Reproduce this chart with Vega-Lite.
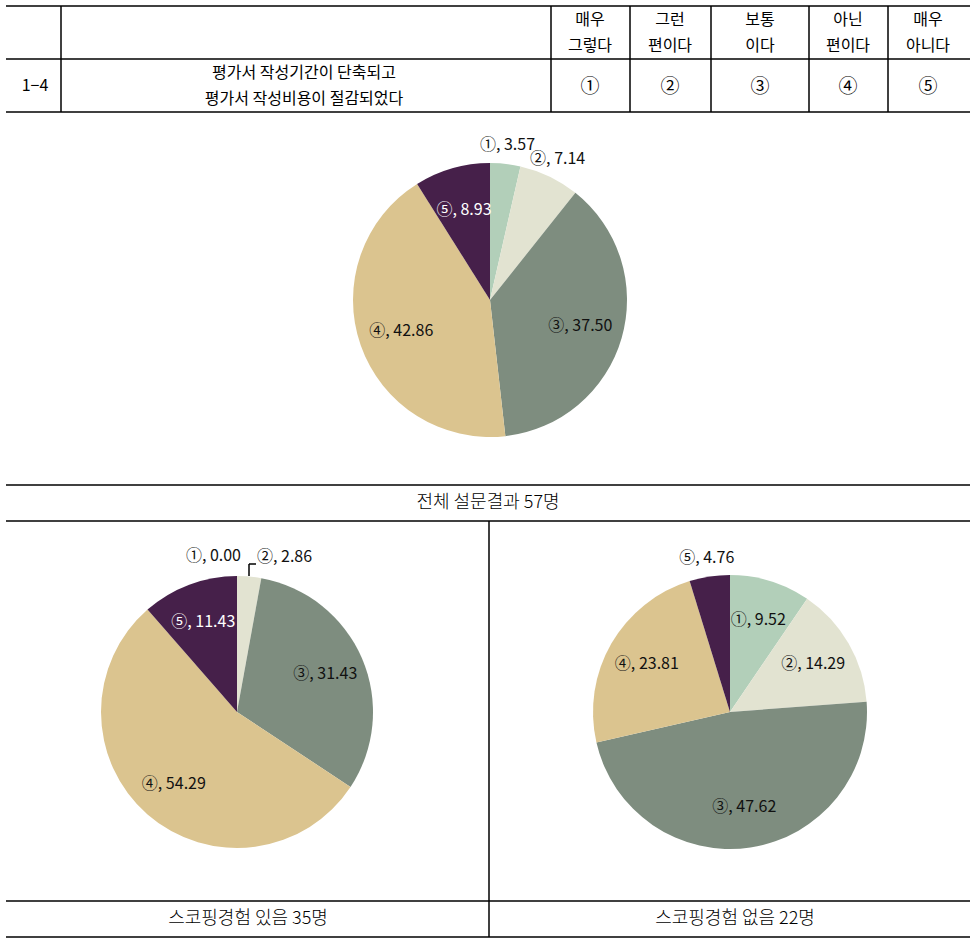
{
  "$schema": "https://vega.github.io/schema/vega-lite/v6.json",
  "width": 976,
  "height": 944,
  "autosize": {"type": "fit", "contains": "padding"},
  "padding": 0,
  "background": "white",
  "config": {"view": {"stroke": null}},
  "datasets": {
    "pies": [
      {"pie": "전체", "choice": "①", "value": 3.57, "label": "①, 3.57"},
      {"pie": "전체", "choice": "②", "value": 7.14, "label": "②, 7.14"},
      {"pie": "전체", "choice": "③", "value": 37.50, "label": "③, 37.50"},
      {"pie": "전체", "choice": "④", "value": 42.86, "label": "④, 42.86"},
      {"pie": "전체", "choice": "⑤", "value": 8.93, "label": "⑤, 8.93"},
      {"pie": "있음", "choice": "①", "value": 0.00, "label": "①, 0.00"},
      {"pie": "있음", "choice": "②", "value": 2.86, "label": "②, 2.86"},
      {"pie": "있음", "choice": "③", "value": 31.43, "label": "③, 31.43"},
      {"pie": "있음", "choice": "④", "value": 54.29, "label": "④, 54.29"},
      {"pie": "있음", "choice": "⑤", "value": 11.43, "label": "⑤, 11.43"},
      {"pie": "없음", "choice": "①", "value": 9.52, "label": "①, 9.52"},
      {"pie": "없음", "choice": "②", "value": 14.29, "label": "②, 14.29"},
      {"pie": "없음", "choice": "③", "value": 47.62, "label": "③, 47.62"},
      {"pie": "없음", "choice": "④", "value": 23.81, "label": "④, 23.81"},
      {"pie": "없음", "choice": "⑤", "value": 4.76, "label": "⑤, 4.76"}
    ],
    "lines": [
      {"x1": 6, "y1": 6, "x2": 970, "y2": 6},
      {"x1": 6, "y1": 59, "x2": 970, "y2": 59},
      {"x1": 6, "y1": 112, "x2": 970, "y2": 112},
      {"x1": 61, "y1": 6, "x2": 61, "y2": 112},
      {"x1": 551, "y1": 6, "x2": 551, "y2": 112},
      {"x1": 630, "y1": 6, "x2": 630, "y2": 112},
      {"x1": 711, "y1": 6, "x2": 711, "y2": 112},
      {"x1": 809, "y1": 6, "x2": 809, "y2": 112},
      {"x1": 888, "y1": 6, "x2": 888, "y2": 112},
      {"x1": 6, "y1": 485, "x2": 970, "y2": 485},
      {"x1": 6, "y1": 521, "x2": 970, "y2": 521},
      {"x1": 489, "y1": 521, "x2": 489, "y2": 937},
      {"x1": 6, "y1": 901, "x2": 970, "y2": 901},
      {"x1": 6, "y1": 937, "x2": 970, "y2": 937}
    ],
    "leader": [
      {"x1": 249, "y1": 564, "x2": 249, "y2": 576},
      {"x1": 249, "y1": 564, "x2": 256, "y2": 564}
    ],
    "texts": [
      {"kind": "head", "text": "매우\n그렇다", "x": 590, "y": 20},
      {"kind": "head", "text": "그런\n편이다", "x": 670, "y": 20},
      {"kind": "head", "text": "보통\n이다", "x": 760, "y": 20},
      {"kind": "head", "text": "아닌\n편이다", "x": 848, "y": 20},
      {"kind": "head", "text": "매우\n아니다", "x": 928, "y": 20},
      {"kind": "head", "text": "1−4", "x": 35, "y": 86},
      {"kind": "head", "text": "평가서 작성기간이 단축되고\n평가서 작성비용이 절감되었다", "x": 304, "y": 73},
      {"kind": "mark", "text": "①", "x": 590, "y": 87},
      {"kind": "mark", "text": "②", "x": 670, "y": 87},
      {"kind": "mark", "text": "③", "x": 760, "y": 87},
      {"kind": "mark", "text": "④", "x": 848, "y": 87},
      {"kind": "mark", "text": "⑤", "x": 928, "y": 87},
      {"kind": "caption", "text": "전체 설문결과 57명", "x": 488, "y": 503},
      {"kind": "caption", "text": "스코핑경험 있음 35명", "x": 248, "y": 919},
      {"kind": "caption", "text": "스코핑경험 없음 22명", "x": 735, "y": 919}
    ]
  },
  "resolve": {"scale": {"theta": "independent"}},
  "layer": [
    {
      "data": {"name": "lines"},
      "mark": {"type": "rule", "stroke": "#000000", "strokeWidth": 1.5},
      "encoding": {
        "x": {"field": "x1", "type": "quantitative", "scale": {"domain": [0, 976], "nice": false, "zero": false}, "axis": null},
        "x2": {"field": "x2"},
        "y": {"field": "y1", "type": "quantitative", "scale": {"domain": [0, 944], "nice": false, "zero": false, "reverse": true}, "axis": null},
        "y2": {"field": "y2"}
      }
    },
    {
      "data": {"name": "leader"},
      "mark": {"type": "rule", "stroke": "#000000", "strokeWidth": 1.5},
      "encoding": {
        "x": {"field": "x1", "type": "quantitative", "scale": {"domain": [0, 976], "nice": false, "zero": false}, "axis": null},
        "x2": {"field": "x2"},
        "y": {"field": "y1", "type": "quantitative", "scale": {"domain": [0, 944], "nice": false, "zero": false, "reverse": true}, "axis": null},
        "y2": {"field": "y2"}
      }
    },
    {
      "data": {"name": "texts"},
      "transform": [{"filter": "datum.kind == 'head'"}],
      "mark": {"type": "text", "font": "Noto Sans CJK KR", "fontSize": 16, "lineBreak": "\n", "lineHeight": 26, "baseline": "middle", "align": "center", "color": "#000000"},
      "encoding": {
        "x": {"field": "x", "type": "quantitative", "scale": {"domain": [0, 976], "nice": false, "zero": false}, "axis": null},
        "y": {"field": "y", "type": "quantitative", "scale": {"domain": [0, 944], "nice": false, "zero": false, "reverse": true}, "axis": null},
        "text": {"field": "text"}
      }
    },
    {
      "data": {"name": "texts"},
      "transform": [{"filter": "datum.kind == 'mark'"}],
      "mark": {"type": "text", "font": "Noto Sans CJK KR", "fontSize": 19, "baseline": "middle", "align": "center", "color": "#000000"},
      "encoding": {
        "x": {"field": "x", "type": "quantitative", "scale": {"domain": [0, 976], "nice": false, "zero": false}, "axis": null},
        "y": {"field": "y", "type": "quantitative", "scale": {"domain": [0, 944], "nice": false, "zero": false, "reverse": true}, "axis": null},
        "text": {"field": "text"}
      }
    },
    {
      "data": {"name": "texts"},
      "transform": [{"filter": "datum.kind == 'caption'"}],
      "mark": {"type": "text", "font": "Noto Sans CJK KR", "fontSize": 18, "fontWeight": 300, "baseline": "middle", "align": "center", "color": "#000000"},
      "encoding": {
        "x": {"field": "x", "type": "quantitative", "scale": {"domain": [0, 976], "nice": false, "zero": false}, "axis": null},
        "y": {"field": "y", "type": "quantitative", "scale": {"domain": [0, 944], "nice": false, "zero": false, "reverse": true}, "axis": null},
        "text": {"field": "text"}
      }
    },
    {
      "data": {"name": "pies"},
      "transform": [{"filter": "datum.pie == '전체'"}],
      "mark": {"type": "arc", "outerRadius": 137},
      "encoding": {
        "x": {"datum": 490, "type": "quantitative", "scale": {"domain": [0, 976], "nice": false, "zero": false}, "axis": null},
        "y": {"datum": 300, "type": "quantitative", "scale": {"domain": [0, 944], "nice": false, "zero": false, "reverse": true}, "axis": null},
        "theta": {"field": "value", "type": "quantitative", "stack": true},
        "order": {"field": "choice"},
        "color": {"field": "choice", "type": "nominal", "legend": null, "scale": {"domain": ["①", "②", "③", "④", "⑤"], "range": ["#b2cfb9", "#e2e3d1", "#7e8d7f", "#dbc48f", "#46204a"]}}
      }
    },
    {
      "data": {"name": "pies"},
      "transform": [{"filter": "datum.pie == '있음'"}],
      "mark": {"type": "arc", "outerRadius": 136},
      "encoding": {
        "x": {"datum": 237, "type": "quantitative", "scale": {"domain": [0, 976], "nice": false, "zero": false}, "axis": null},
        "y": {"datum": 712, "type": "quantitative", "scale": {"domain": [0, 944], "nice": false, "zero": false, "reverse": true}, "axis": null},
        "theta": {"field": "value", "type": "quantitative", "stack": true},
        "order": {"field": "choice"},
        "color": {"field": "choice", "type": "nominal", "legend": null, "scale": {"domain": ["①", "②", "③", "④", "⑤"], "range": ["#b2cfb9", "#e2e3d1", "#7e8d7f", "#dbc48f", "#46204a"]}}
      }
    },
    {
      "data": {"name": "pies"},
      "transform": [{"filter": "datum.pie == '없음'"}],
      "mark": {"type": "arc", "outerRadius": 137},
      "encoding": {
        "x": {"datum": 730, "type": "quantitative", "scale": {"domain": [0, 976], "nice": false, "zero": false}, "axis": null},
        "y": {"datum": 712, "type": "quantitative", "scale": {"domain": [0, 944], "nice": false, "zero": false, "reverse": true}, "axis": null},
        "theta": {"field": "value", "type": "quantitative", "stack": true},
        "order": {"field": "choice"},
        "color": {"field": "choice", "type": "nominal", "legend": null, "scale": {"domain": ["①", "②", "③", "④", "⑤"], "range": ["#b2cfb9", "#e2e3d1", "#7e8d7f", "#dbc48f", "#46204a"]}}
      }
    },
    {
      "data": {"name": "pies"},
      "transform": [{"filter": "datum.pie == '전체'"}],
      "mark": {"type": "text", "font": "Noto Sans CJK KR", "fontSize": 16, "baseline": "middle", "radius": {"expr": "datum.value < 8 ? 156 : 94"}, "align": {"expr": "datum.value == 0 ? 'right' : (datum.value < 3 ? 'left' : 'center')"}},
      "encoding": {
        "x": {"datum": 490, "type": "quantitative", "scale": {"domain": [0, 976], "nice": false, "zero": false}, "axis": null},
        "y": {"datum": 300, "type": "quantitative", "scale": {"domain": [0, 944], "nice": false, "zero": false, "reverse": true}, "axis": null},
        "theta": {"field": "value", "type": "quantitative", "stack": true},
        "order": {"field": "choice"},
        "text": {"field": "label"},
        "color": {"condition": {"test": "datum.choice == '⑤' && datum.value >= 8", "value": "#ffffff"}, "value": "#111111"}
      }
    },
    {
      "data": {"name": "pies"},
      "transform": [{"filter": "datum.pie == '있음'"}],
      "mark": {"type": "text", "font": "Noto Sans CJK KR", "fontSize": 16, "baseline": "middle", "radius": {"expr": "datum.value < 8 ? 156 : 96"}, "align": {"expr": "datum.value == 0 ? 'right' : (datum.value < 3 ? 'left' : 'center')"}, "dx": {"expr": "datum.value == 0 ? 4 : (datum.value < 3 ? 6 : 0)"}},
      "encoding": {
        "x": {"datum": 237, "type": "quantitative", "scale": {"domain": [0, 976], "nice": false, "zero": false}, "axis": null},
        "y": {"datum": 712, "type": "quantitative", "scale": {"domain": [0, 944], "nice": false, "zero": false, "reverse": true}, "axis": null},
        "theta": {"field": "value", "type": "quantitative", "stack": true},
        "order": {"field": "choice"},
        "text": {"field": "label"},
        "color": {"condition": {"test": "datum.choice == '⑤' && datum.value >= 8", "value": "#ffffff"}, "value": "#111111"}
      }
    },
    {
      "data": {"name": "pies"},
      "transform": [{"filter": "datum.pie == '없음'"}],
      "mark": {"type": "text", "font": "Noto Sans CJK KR", "fontSize": 16, "baseline": "middle", "radius": {"expr": "datum.value < 8 ? 156 : 96"}, "align": {"expr": "datum.value == 0 ? 'right' : (datum.value < 3 ? 'left' : 'center')"}},
      "encoding": {
        "x": {"datum": 730, "type": "quantitative", "scale": {"domain": [0, 976], "nice": false, "zero": false}, "axis": null},
        "y": {"datum": 712, "type": "quantitative", "scale": {"domain": [0, 944], "nice": false, "zero": false, "reverse": true}, "axis": null},
        "theta": {"field": "value", "type": "quantitative", "stack": true},
        "order": {"field": "choice"},
        "text": {"field": "label"},
        "color": {"condition": {"test": "datum.choice == '⑤' && datum.value >= 8", "value": "#ffffff"}, "value": "#111111"}
      }
    }
  ]
}
